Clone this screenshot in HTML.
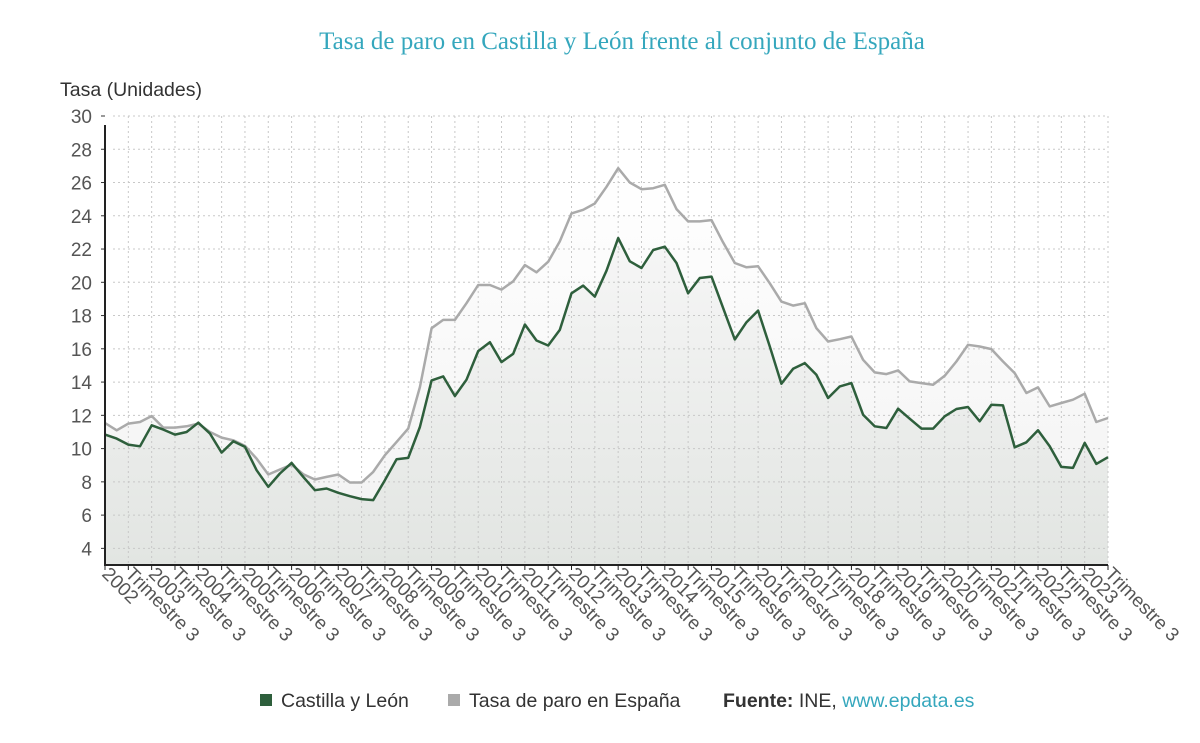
<!DOCTYPE html>
<html><head><meta charset="utf-8">
<style>
body{margin:0;background:#fff;width:1200px;height:738px;overflow:hidden;font-family:"Liberation Sans",sans-serif;}
svg text{font-family:"Liberation Sans",sans-serif;}
</style></head>
<body>
<svg id="chart" width="1200" height="738" viewBox="0 0 1200 738" xmlns="http://www.w3.org/2000/svg">
<defs>
<linearGradient id="gGreen" x1="0" y1="0" x2="0" y2="1"><stop offset="0" stop-color="#f6f6f6"/><stop offset="1" stop-color="#e2e5e2"/></linearGradient>
<linearGradient id="gGray" x1="0" y1="0" x2="0" y2="1"><stop offset="0" stop-color="#ffffff"/><stop offset="1" stop-color="#f2f2f2"/></linearGradient>
</defs>
<text x="622" y="49" text-anchor="middle" style="font-family:'Liberation Serif',serif" font-size="25" fill="#35a7bd">Tasa de paro en Castilla y León frente al conjunto de España</text>
<text x="60" y="96" font-size="19.5" fill="#333">Tasa (Unidades)</text>
<g id="areas"></g>
<g id="grid"></g>
<g id="lines"></g>
<g id="axes"></g>
<g>
<rect x="260" y="694" width="12" height="12" fill="#2e5f3c"/>
<text x="281" y="707" font-size="19.5" fill="#333">Castilla y León</text>
<rect x="448" y="694" width="12" height="12" fill="#aaaaaa"/>
<text x="469" y="707" font-size="19.5" fill="#333">Tasa de paro en España</text>
<text x="723" y="707" font-size="19.5" fill="#333"><tspan font-weight="bold">Fuente:</tspan> INE, <tspan fill="#35a7bd">www.epdata.es</tspan></text>
</g>
</svg>
<script>
const castilla=[10.84,10.6,10.24,10.14,11.4,11.14,10.84,11.0,11.56,10.9,9.76,10.44,10.1,8.7,7.7,8.5,9.14,8.3,7.5,7.6,7.34,7.14,6.96,6.9,8.1,9.36,9.44,11.3,14.1,14.34,13.16,14.14,15.86,16.4,15.2,15.7,17.46,16.5,16.2,17.14,19.34,19.8,19.14,20.7,22.66,21.26,20.86,21.94,22.14,21.16,19.34,20.26,20.34,18.46,16.56,17.6,18.3,16.14,13.9,14.8,15.14,14.44,13.04,13.74,13.94,12.04,11.34,11.24,12.4,11.8,11.2,11.2,11.94,12.38,12.5,11.64,12.64,12.6,10.08,10.38,11.1,10.14,8.9,8.84,10.34,9.08,9.48];
const espana=[11.54,11.1,11.5,11.6,11.96,11.26,11.26,11.34,11.5,11.0,10.66,10.5,10.16,9.4,8.44,8.74,9.04,8.46,8.14,8.3,8.44,7.96,7.96,8.6,9.6,10.4,11.2,13.7,17.24,17.74,17.74,18.74,19.84,19.84,19.56,20.06,21.04,20.6,21.24,22.46,24.14,24.36,24.74,25.74,26.86,26.0,25.6,25.66,25.86,24.4,23.66,23.66,23.74,22.4,21.16,20.9,20.96,19.94,18.84,18.6,18.74,17.24,16.44,16.58,16.74,15.34,14.58,14.48,14.7,14.04,13.94,13.84,14.38,15.24,16.24,16.14,15.98,15.24,14.54,13.34,13.68,12.54,12.74,12.94,13.3,11.6,11.84];
const startYear=2002;
const yTicks=[4,6,8,10,12,14,16,18,20,22,24,26,28,30];
const NS="http://www.w3.org/2000/svg";
const X0=105,X1=1108,YTOP=116,YBOT=565,VMIN=3,VMAX=30;
const n=castilla.length;
function x(i){return X0+(X1-X0)*i/(n-1);}
function y(v){return YBOT-(v-VMIN)/(VMAX-VMIN)*(YBOT-YTOP);}
function mk(tag,attrs,parent){const e=document.createElementNS(NS,tag);for(const k in attrs)e.setAttribute(k,attrs[k]);parent.appendChild(e);return e;}
const grid=document.getElementById('grid'),axes=document.getElementById('axes'),areas=document.getElementById('areas'),lines=document.getElementById('lines');
yTicks.forEach(t=>{
 const l=mk('line',{x1:X0+8,x2:X1,y1:y(t),y2:y(t),stroke:'#c8c8c8','stroke-dasharray':'2,3','stroke-width':1},grid);
 
 
 const tx=mk('text',{x:92,y:y(t)+7,'text-anchor':'end','font-size':19,fill:'#555'},axes);
 tx.textContent=t;
 
 
 mk('line',{x1:X0-4,x2:X0,y1:y(t),y2:y(t),stroke:'#333'},axes);
});
function pts(arr){return arr.map((v,i)=>x(i).toFixed(1)+','+y(v).toFixed(1)).join(' ');}
const a1=mk('polygon',{points:x(0)+','+YBOT+' '+pts(espana)+' '+x(n-1)+','+YBOT,fill:'url(#gGray)'},areas);


const a2=mk('polygon',{points:x(0)+','+YBOT+' '+pts(castilla)+' '+x(n-1)+','+YBOT,fill:'url(#gGreen)'},areas);


for(let i=2;i<n;i+=2){
 const l=mk('line',{x1:x(i),x2:x(i),y1:YTOP,y2:YBOT,stroke:'#c8c8c8','stroke-dasharray':'2,3'},grid);
 
 
}
const l1=mk('polyline',{points:pts(espana),fill:'none',stroke:'#aaaaaa','stroke-width':2.5,'stroke-linejoin':'round'},lines);


const l2=mk('polyline',{points:pts(castilla),fill:'none',stroke:'#2e5f3c','stroke-width':2.5,'stroke-linejoin':'round'},lines);


mk('line',{x1:X0,x2:X0,y1:YTOP+9,y2:YBOT+1,stroke:'#222','stroke-width':2},axes);
mk('line',{x1:X0,x2:X1,y1:YBOT,y2:YBOT,stroke:'#222','stroke-width':2},axes);
for(let i=0;i<n;i+=2){
 mk('line',{x1:x(i),x2:x(i),y1:YBOT,y2:YBOT+5,stroke:'#222'},axes);
 const lab=(i%4===0)?String(startYear+i/4):'Trimestre 3';
 const tx=mk('text',{x:0,y:0,'font-size':19,fill:'#555',transform:'translate('+(x(i)-4)+','+(YBOT+10)+') rotate(45)'},axes);
 tx.textContent=lab;
 
 
}
</script>
</body></html>
